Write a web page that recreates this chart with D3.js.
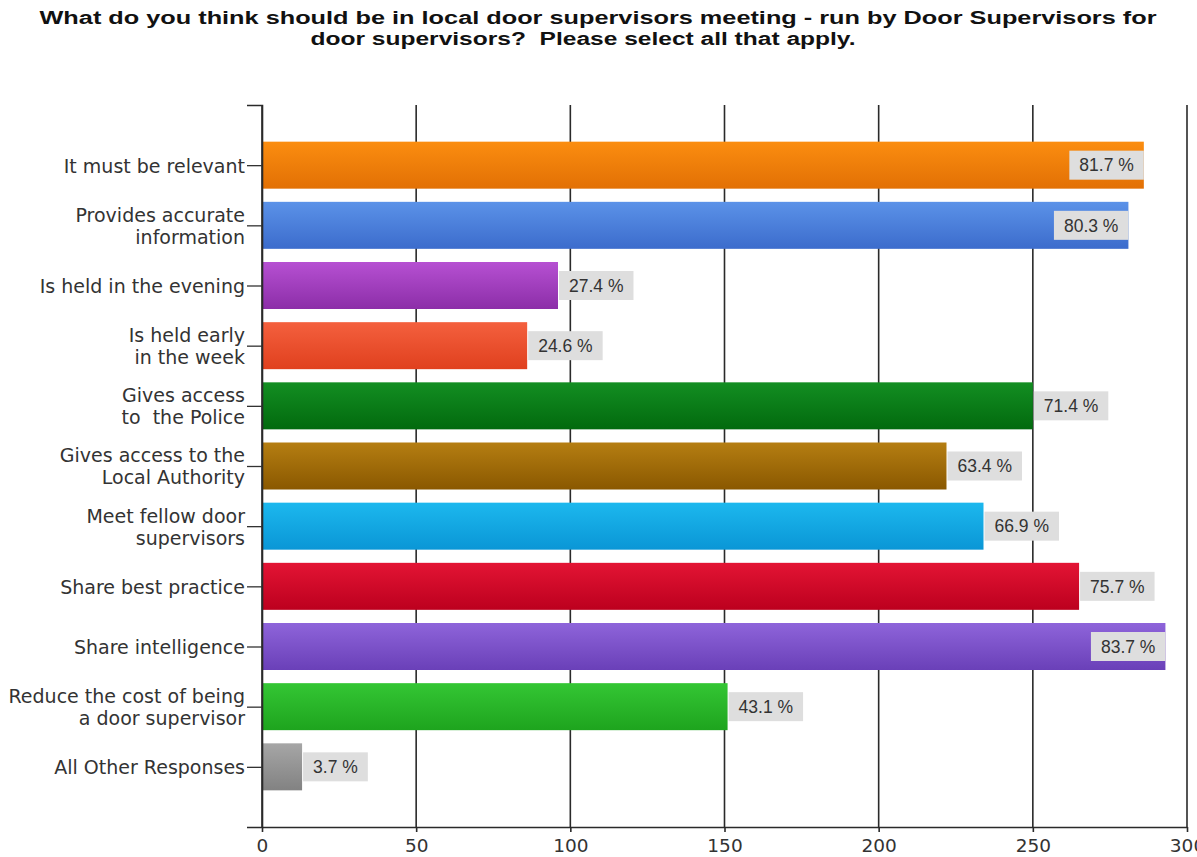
<!DOCTYPE html>
<html>
<head>
<meta charset="utf-8">
<script src="https://cdn.jsdelivr.net/npm/d3@7"></script>
<style>
  html, body { margin: 0; padding: 0; background: #fff; }
  svg { display: block; }
  text { white-space: pre; }
</style>
</head>
<body>
<svg id="chart" width="1197" height="857"></svg>
<script>
const titleLines = [
  "What do you think should be in local door supervisors meeting - run by Door Supervisors for",
  "door supervisors?  Please select all that apply."
];
const categories = [
  "It must be relevant",
  "Provides accurate\ninformation",
  "Is held in the evening",
  "Is held early\nin the week",
  "Gives access\nto  the Police",
  "Gives access to the\nLocal Authority",
  "Meet fellow door\nsupervisors",
  "Share best practice",
  "Share intelligence",
  "Reduce the cost of being\na door supervisor",
  "All Other Responses"
];
const counts = [286, 281, 96, 86, 250, 222, 234, 265, 293, 151, 13];
const percents = ["81.7 %", "80.3 %", "27.4 %", "24.6 %", "71.4 %", "63.4 %", "66.9 %", "75.7 %", "83.7 %", "43.1 %", "3.7 %"];
const colorsTop = ["#fb8d10", "#5b92e8", "#b650d2", "#f4603e", "#138e22", "#b57e12", "#1cb8ee", "#e31434", "#8e64da", "#34c634", "#a6a6a6"];
const colorsBottom = ["#e27004", "#3c6ccc", "#8c2ea8", "#e0401e", "#026a0e", "#8a5800", "#0a96d6", "#bc001e", "#6a40b8", "#1ea41e", "#828282"];
const xTicks = [0, 50, 100, 150, 200, 250, 300];

(function () {
const svg = d3.select("#chart");
const pLeft = 262, pRight = 1187, pTop = 105, pBottom = 827;

const x = d3.scaleLinear().domain([0, 300]).range([pLeft, pRight]);
const y = d3.scalePoint().domain(categories).range([pTop, pBottom]).padding(1);
const barH = 47;

// gradients
const defs = svg.append("defs");
categories.forEach((c, i) => {
  const g = defs.append("linearGradient").attr("id", "g" + i)
    .attr("x1", 0).attr("y1", 0).attr("x2", 0).attr("y2", 1);
  g.append("stop").attr("offset", "0%").attr("stop-color", colorsTop[i]);
  g.append("stop").attr("offset", "100%").attr("stop-color", colorsBottom[i]);
});

// title
svg.append("g").selectAll("text").data(titleLines).join("text")
  .attr("x", (d, i) => i === 0 ? 598 : 583)
  .attr("y", (d, i) => 24 + i * 21)
  .attr("text-anchor", "middle")
  .attr("font-family", "Liberation Sans, Arial, sans-serif")
  .attr("font-weight", "bold")
  .attr("font-size", 18)
  .attr("fill", "#111")
  .attr("textLength", (d, i) => i === 0 ? 1117 : 545)
  .attr("lengthAdjust", "spacingAndGlyphs")
  .text(d => d);

// gridlines
svg.append("g").selectAll("line").data(xTicks).join("line")
  .attr("x1", d => x(d)).attr("x2", d => x(d))
  .attr("y1", pTop).attr("y2", pBottom)
  .attr("stroke", "#2a2a2a").attr("stroke-width", 1.6);

// bottom axis
const xAxis = svg.append("g").attr("transform", `translate(0,${pBottom})`)
  .call(d3.axisBottom(x).tickValues(xTicks).tickSize(5).tickSizeOuter(0).tickPadding(7));
xAxis.select(".domain").attr("stroke", "#2a2a2a").attr("stroke-width", 1.6);
xAxis.selectAll(".tick line").attr("stroke", "#2a2a2a").attr("stroke-width", 1.6);
xAxis.selectAll(".tick text")
  .attr("font-family", "DejaVu Sans, sans-serif").attr("font-size", 18.5).attr("fill", "#333");

// bars
svg.append("g").selectAll("rect").data(categories).join("rect")
  .attr("x", x(0))
  .attr("y", d => y(d) - barH / 2)
  .attr("width", (d, i) => x(counts[i]) - x(0))
  .attr("height", barH)
  .attr("fill", (d, i) => `url(#g${i})`);

// left axis
const yAxis = svg.append("g").attr("transform", `translate(${pLeft},0)`)
  .call(d3.axisLeft(y).tickSize(15).tickSizeOuter(15).tickPadding(2));
yAxis.select(".domain").attr("stroke", "#2a2a2a").attr("stroke-width", 1.6);
yAxis.selectAll(".tick line").attr("stroke", "#333").attr("stroke-width", 1.3);
yAxis.selectAll(".tick text").each(function(d) {
  const t = d3.select(this);
  const lines = d.split("\n");
  t.text(null)
    .attr("font-family", "DejaVu Sans, sans-serif")
    .attr("font-size", 19)
    .attr("fill", "#333")
    .attr("dy", null);
  const lh = 22;
  lines.forEach((ln, k) => {
    t.append("tspan")
      .attr("x", -17)
      .attr("y", (k - (lines.length - 1) / 2) * lh)
      .attr("dy", "0.36em")
      .text(ln);
  });
});

// value labels
const lg = svg.append("g");
categories.forEach((c, i) => {
  const g = lg.append("g");
  const rect = g.append("rect");
  const txt = g.append("text")
    .attr("font-family", "Liberation Sans, Arial, sans-serif")
    .attr("font-size", 17.5)
    .attr("fill", "#333")
    .attr("text-anchor", "middle")
    .attr("dy", "0.36em")
    .text(percents[i]);
  const w = txt.node().getComputedTextLength() + 20;
  const end = x(counts[i]);
  const bx = (end + 1 + w > pRight) ? end - w : end + 1;
  rect.attr("x", bx).attr("y", y(c) - 14.5).attr("width", w).attr("height", 29)
    .attr("fill", "#dedede");
  txt.attr("x", bx + w / 2).attr("y", y(c));
});
})();
</script>
</body>
</html>
